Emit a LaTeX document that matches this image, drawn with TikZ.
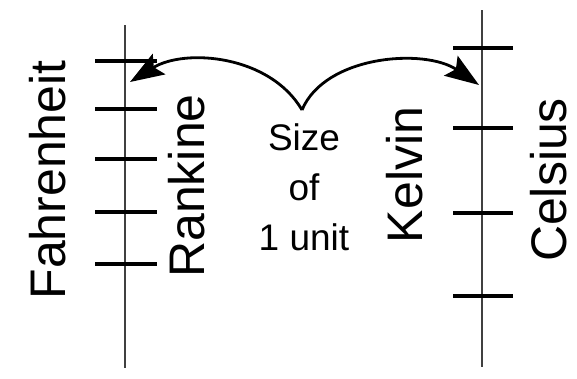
\documentclass[tikz,border=0pt]{standalone}
\usepackage{fontspec}
\setmainfont{Liberation Sans}
\usetikzlibrary{arrows.meta}
\tikzset{
  axisline/.style={line width=1.6pt,draw=black!75},
  tickline/.style={line width=3.2pt,draw=black},
  scalelabel/.style={rotate=90,inner sep=0pt,font=\fontsize{50pt}{60pt}\selectfont},
  midtext/.style={anchor=base,inner sep=0pt,font=\fontsize{37pt}{44pt}\selectfont},
  curvearrow/.style={line width=2.8pt,-{Stealth[length=34pt,width=24pt,inset=6pt]}}}
\begin{document}
\begin{tikzpicture}
\useasboundingbox (0pt,0pt) rectangle (577pt,-378pt);
% axes
\coordinate (LT) at (125pt,-25pt); \coordinate (LB) at (125pt,-368pt);
\coordinate (RT) at (482pt,-10pt); \coordinate (RB) at (482pt,-367pt);
\draw[axisline] (LT) -- (LB);
\draw[axisline] (RT) -- (RB);
% left ticks
\foreach \y in {61,109,159,212,264}{
  \draw[tickline] (95pt,-\y pt) -- (157pt,-\y pt);
}
% right ticks
\foreach \y in {48,128,213,296}{
  \draw[tickline] (453pt,-\y pt) -- (513pt,-\y pt);
}
% labels
\node[scalelabel] (fahr) at (48pt,-180pt) {Fahrenheit};
\node[scalelabel] (rank) at (187pt,-186pt) {Rankine};
\node[scalelabel] (kelv) at (405pt,-175pt) {Kelvin};
\node[scalelabel] (cels) at (549pt,-180pt) {Celsius};
\node[midtext] (size) at (304pt,-150pt) {Size};
\node[midtext] (of) at (304pt,-200pt) {of};
\node[midtext] (unit) at (304pt,-250pt) {1 unit};
% arrows
\coordinate (apex) at (302pt,-110pt);
\coordinate (ltip) at (130pt,-82pt);
\coordinate (rtip) at (479pt,-85pt);
\draw[curvearrow] (apex) .. controls (270pt,-55pt) and (185pt,-48pt) .. (ltip);
\draw[curvearrow] (apex) .. controls (325pt,-55pt) and (425pt,-48pt) .. (rtip);
\end{tikzpicture}
\end{document}
